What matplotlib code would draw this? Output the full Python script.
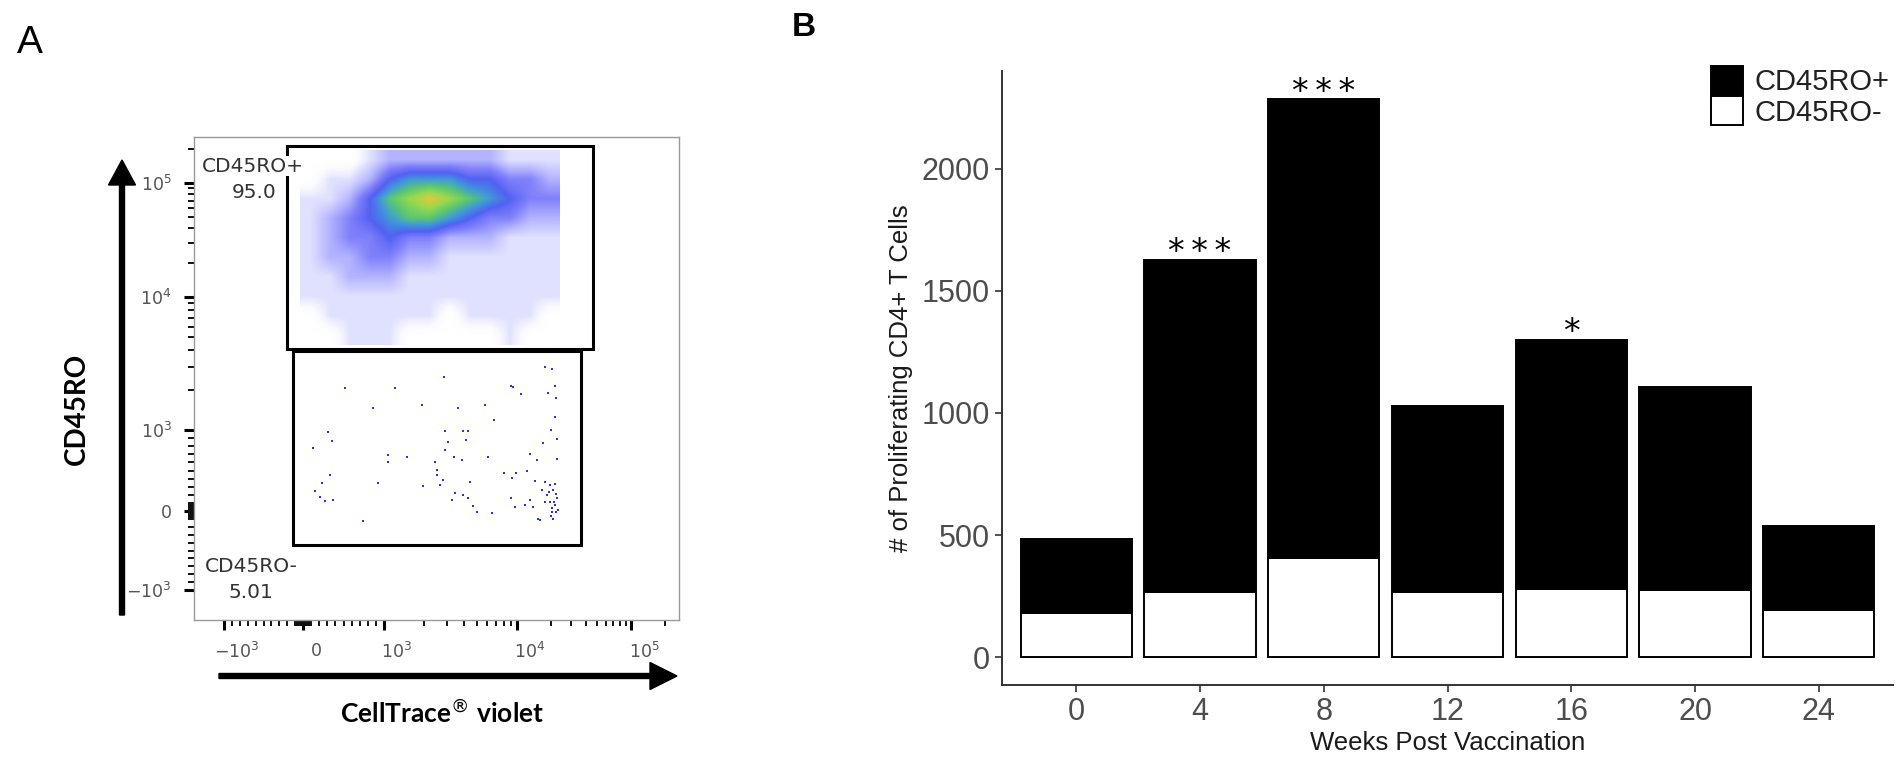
import numpy as np
import matplotlib
matplotlib.use('Agg')
import matplotlib.pyplot as plt
from matplotlib.patches import Rectangle, FancyArrow, Patch
from matplotlib.colors import LinearSegmentedColormap
from matplotlib.transforms import ScaledTranslation

# ---- panel B data ----
weeks = ['0', '4', '8', '12', '16', '20', '24']
cd45ro_neg = [180, 265, 405, 265, 280, 275, 195]
cd45ro_pos = [304, 1363, 1880, 765, 1020, 830, 340]
stars = ['', '***', '***', '', '*', '', '']

# ---- panel A data (display channel units, 0-485 x 0-483) ----
flow_tick_pos = [30, 109, 190, 323, 437]
flow_tick_lab = ['$-10^{3}$', '0', '$10^{3}$', '$10^{4}$', '$10^{5}$']
gate_pos = [93, 271, 306, 203]    # x, y, w, h
gate_neg = [99, 75, 288, 194]
gate_pos_text = ('CD45RO+', '95.0')
gate_neg_text = ('CD45RO-', '5.01')

# density of events in the CD45RO+ cloud, rows top -> bottom
cloud_extent = (106, 366, 275, 470)
cloud_density = [
    [0, 0, 0, 1, 2, 2, 2, 2, 2, 2, 1, 1, 1],
    [0, 1, 1, 2, 4, 5, 5, 5, 4, 4, 3, 3, 2],
    [1, 1, 2, 4, 6, 7, 8, 7, 6, 5, 4, 3, 3],
    [1, 2, 3, 4, 5, 6, 6, 5, 4, 3, 3, 2, 2],
    [1, 2, 3, 3, 4, 3, 3, 2, 2, 2, 1, 1, 1],
    [1, 2, 2, 3, 3, 2, 2, 1, 1, 1, 1, 1, 1],
    [1, 1, 2, 2, 2, 1, 1, 1, 1, 1, 1, 1, 1],
    [1, 1, 1, 1, 1, 1, 1, 1, 1, 1, 1, 1, 1],
    [0, 1, 1, 1, 1, 1, 1, 0, 1, 1, 1, 1, 0],
    [0, 0, 1, 1, 1, 0, 0, 0, 0, 0, 1, 0, 0],
]

# single events in the CD45RO- gate
neg_events = [
    (134, 188), (138, 179), (119, 172), (194, 165), (194, 158), (213, 163), (184, 137),
    (229, 134), (241, 158), (243, 150), (251, 170), (254, 178), (251, 189), (269, 189),
    (274, 189), (272, 180), (268, 160), (276, 138), (260, 163), (249, 140), (246, 135),
    (243, 145), (258, 120), (269, 125), (279, 114), (298, 107), (294, 163), (300, 200),
    (169, 99), (128, 137), (121, 129), (126, 123), (131, 119), (136, 145), (139, 120),
    (179, 212), (228, 215), (264, 212), (291, 215), (358, 251), (351, 253), (361, 234),
    (354, 227), (317, 234), (327, 226), (362, 222), (361, 203), (357, 190), (349, 177),
    (363, 181), (336, 166), (343, 160), (363, 161), (310, 147), (318, 142), (322, 147),
    (333, 149), (341, 139), (351, 138), (356, 135), (361, 136), (348, 130), (353, 125),
    (359, 130), (363, 122), (361, 115), (358, 108), (362, 108), (346, 100), (336, 120),
    (317, 122), (321, 113), (331, 115), (339, 113), (351, 118), (356, 118), (261, 127),
    (274, 122), (283, 108), (344, 101), (359, 101), (358, 112), (360, 118), (362, 126),
    (355, 128), (364, 110), (357, 104), (151, 232), (201, 232), (250, 243), (319, 233),
]


def chan(v):
    # biexponential-like display position of a value
    v = np.asarray(v, dtype=float)
    u = np.where(np.abs(v) <= 1000, v / 1000.0,
                 np.sign(v) * (1 + np.log10(np.maximum(np.abs(v), 1) / 1000.0)))
    p = np.interp(u, [-1, 0, 1, 2, 3], flow_tick_pos)
    top = u > 3
    p = np.where(top, flow_tick_pos[-1] + (u - 3) * (flow_tick_pos[-1] - flow_tick_pos[-2]), p)
    return p


minor_vals = [s * k * m for s in (-1, 1) for m in (10, 100) for k in range(1, 10)]
minor_vals += [k * m for m in (1e3, 1e4) for k in range(2, 10)] + [2e5]
minor_pos = chan(minor_vals)

W, H = 1902, 761
fig = plt.figure(figsize=(W / 100, H / 100), dpi=100)


def box(l, t, r, b):
    return [l / W, 1 - b / H, (r - l) / W, (b - t) / H]


# ================= panel A =================
axa = fig.add_axes(box(194, 137, 679, 620))
axa.set_xlim(0, 485)
axa.set_ylim(0, 483)

cmap = LinearSegmentedColormap.from_list('flow', [
    (1, 1, 1, 0), (0.88, 0.88, 1.0, 1), (0.7, 0.7, 1.0, 1), (0.5, 0.5, 0.98, 1),
    (0.32, 0.38, 0.95, 1), (0.25, 0.6, 0.85, 1), (0.35, 0.78, 0.45, 1), (0.6, 0.85, 0.3, 1),
    (0.88, 0.78, 0.25, 1), (0.95, 0.55, 0.2, 1)])
axa.imshow(np.array(cloud_density, dtype=float), cmap=cmap, vmin=0, vmax=9,
           extent=cloud_extent, origin='upper', interpolation='bilinear', aspect='auto', zorder=1)

ex, ey = zip(*neg_events)
axa.scatter(ex, ey, s=3, marker='s', color='#3030e0', lw=0, zorder=2)

for g in (gate_pos, gate_neg):
    axa.add_patch(Rectangle((g[0], g[1]), g[2], g[3], fill=False, ec='black', lw=2.2, zorder=3))

txt = dict(ha='center', va='center', fontsize=14.5, color='#333333', family='DejaVu Sans', zorder=4)
axa.text(59, 454, gate_pos_text[0], bbox=dict(fc='white', ec='none', pad=0.5), **txt)
axa.text(60, 428, gate_pos_text[1], **txt)
axa.text(57, 54, gate_neg_text[0], **txt)
axa.text(57, 28, gate_neg_text[1], **txt)

for sp in axa.spines.values():
    sp.set_color('#999999')
    sp.set_linewidth(1)
axa.set_xticks(flow_tick_pos)
axa.set_xticklabels(flow_tick_lab)
axa.set_yticks(flow_tick_pos)
axa.set_yticklabels(flow_tick_lab)
axa.set_xticks(minor_pos, minor=True)
axa.set_yticks(minor_pos, minor=True)
axa.tick_params(which='major', direction='out', length=7, width=2.2, color='black',
                labelsize=12.5, labelcolor='#555555', pad=9)
axa.tick_params(which='minor', direction='out', length=4.5, width=1.4, color='#111111')
for lab in axa.get_xticklabels():
    lab.set_transform(lab.get_transform() + ScaledTranslation(0.13, 0, fig.dpi_scale_trans))

# ================= overlay for arrows / letters =================
ov = fig.add_axes([0, 0, 1, 1])
ov.set_xlim(0, W)
ov.set_ylim(H, 0)
ov.axis('off')
ov.patch.set_visible(False)
ov.add_patch(FancyArrow(122, 615, 0, -455, width=5, head_width=27, head_length=25,
                        length_includes_head=True, color='black'))
ov.add_patch(FancyArrow(219, 676, 458, 0, width=5, head_width=27, head_length=27,
                        length_includes_head=True, color='black'))
ov.text(30, 43, 'A', ha='center', va='center', fontsize=28, family='Liberation Sans')
ov.text(804, 27, 'B', ha='center', va='center', fontsize=24, family='Liberation Sans',
        weight='bold')
ov.text(77, 409, 'CD45RO', ha='center', va='center', rotation=90, fontsize=20,
        family='Lato', weight='bold')
ov.text(442, 713, r'CellTrace$^{\circledR}$ violet', ha='center', va='center', fontsize=19,
        family='Lato', weight='bold')

# ================= panel B =================
axb = fig.add_axes(box(1002, 71, 1893, 685))
x = np.arange(len(weeks))
total = np.array(cd45ro_neg) + np.array(cd45ro_pos)
axb.bar(x, cd45ro_neg, width=0.9, color='white', edgecolor='black', lw=1.4, label='CD45RO-')
axb.bar(x, cd45ro_pos, width=0.9, bottom=cd45ro_neg, color='black', edgecolor='black', lw=1.4,
        label='CD45RO+')
for xi, t, s in zip(x, total, stars):
    if s:
        axb.annotate('\u2009'.join(s), xy=(xi, t), xytext=(0, 5), textcoords='offset points',
                     ha='center', va='center', fontsize=24, family='DejaVu Sans')

axb.set_xlim(-0.6, 6.6)
axb.set_ylim(-114, 2400)
axb.set_xticks(x)
axb.set_xticklabels(weeks)
axb.set_yticks([0, 500, 1000, 1500, 2000])
for s in ('top', 'right'):
    axb.spines[s].set_visible(False)
for s in ('left', 'bottom'):
    axb.spines[s].set_color('#333333')
    axb.spines[s].set_linewidth(1.4)
axb.tick_params(length=5, width=1.2, color='#333333', labelcolor='#4d4d4d', labelsize=22, pad=4)
for lab in axb.get_xticklabels() + axb.get_yticklabels():
    lab.set_family('Liberation Sans')
axb.set_ylabel('# of Proliferating CD4+ T Cells', fontsize=18.5, family='Liberation Sans',
               color='#1a1a1a')
axb.yaxis.set_label_coords(-0.1, 0.5)
axb.set_xlabel('Weeks Post Vaccination', fontsize=18.5, family='Liberation Sans', color='#1a1a1a')
axb.xaxis.set_label_coords(0.5, -0.075)

handles = [Patch(fc='black', ec='black', lw=1.4, label='CD45RO+'),
           Patch(fc='white', ec='black', lw=1.4, label='CD45RO-')]
leg = axb.legend(handles=handles, loc='upper left', bbox_to_anchor=(1711 / W, 1 - 66 / H),
                 bbox_transform=fig.transFigure, frameon=False, fontsize=21, handlelength=1.1,
                 handleheight=1.15, labelspacing=0.0, handletextpad=0.4, borderpad=0,
                 borderaxespad=0)
for t in leg.get_texts():
    t.set_family('Liberation Sans')
    t.set_color('#222222')

fig.savefig('out.png', dpi=100, facecolor='white')
